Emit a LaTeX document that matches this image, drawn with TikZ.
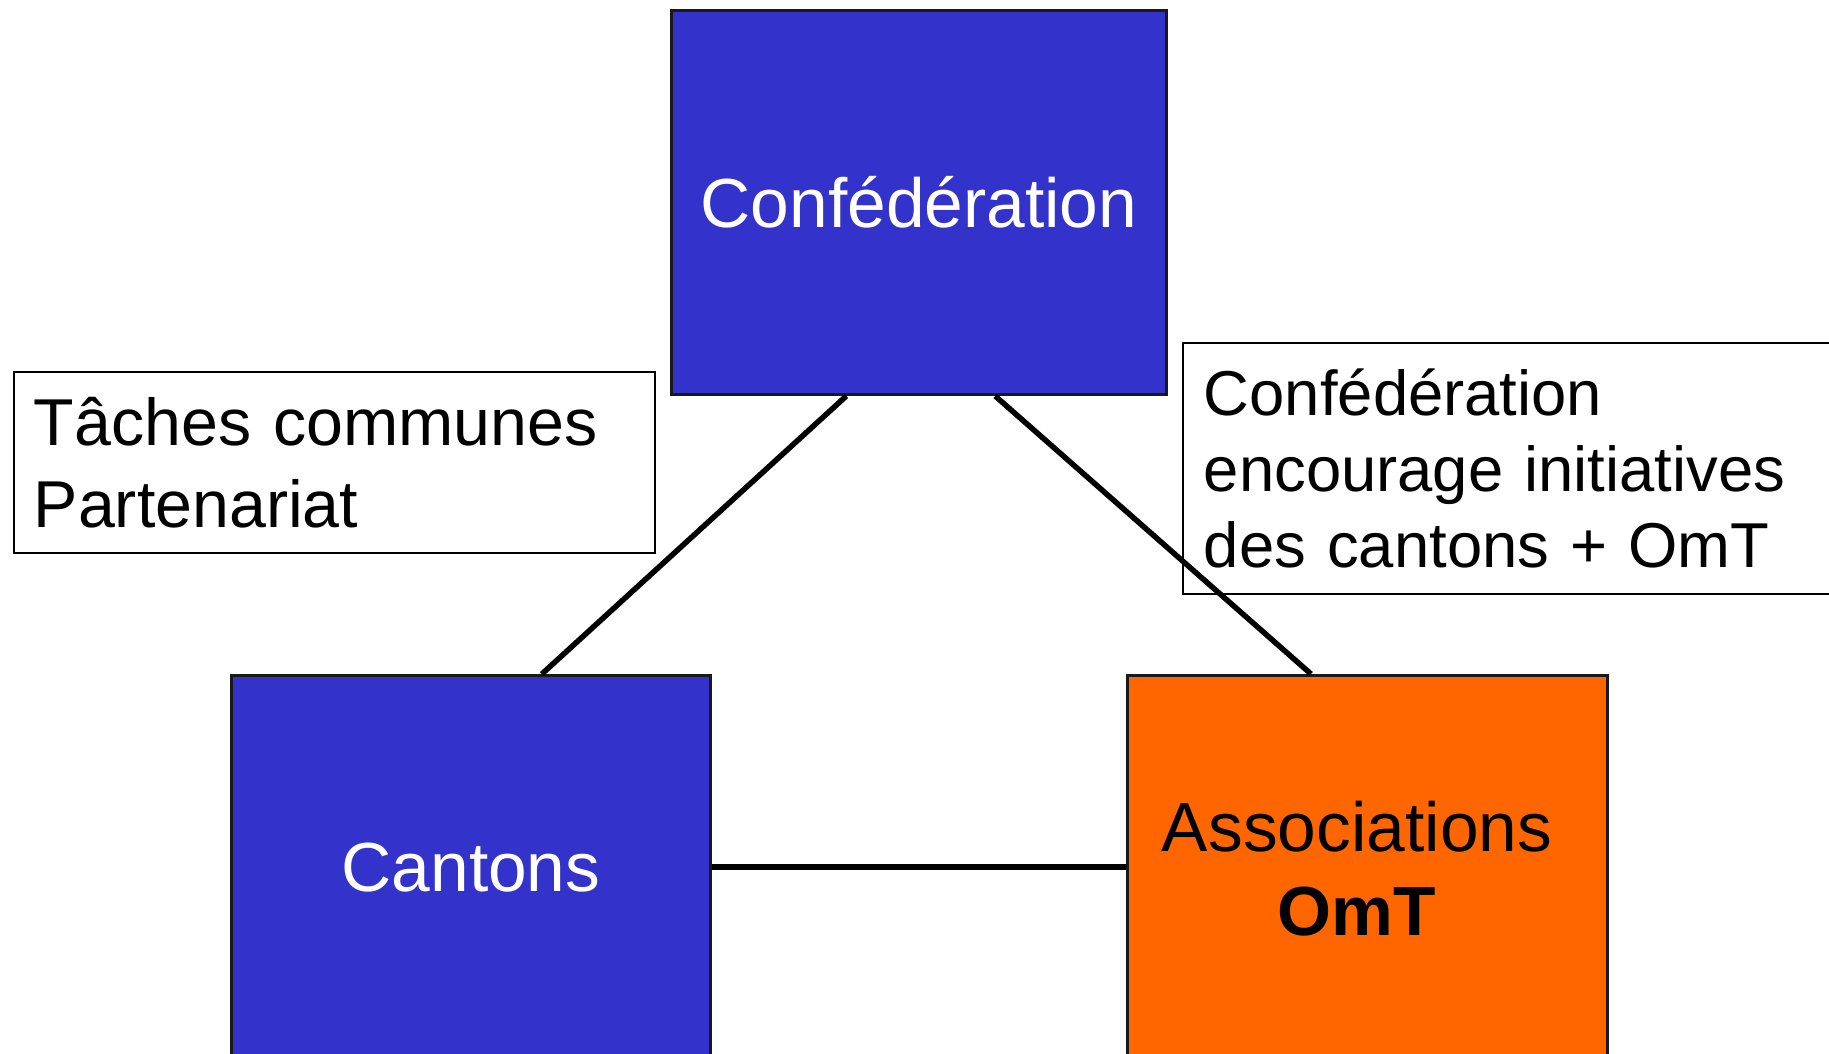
\documentclass[tikz,border=0pt]{standalone}
\usepackage{fontspec}
\setmainfont{Liberation Sans}
\usetikzlibrary{calc}
\definecolor{boxblue}{RGB}{51,51,204}
\definecolor{boxorange}{RGB}{255,102,0}
\begin{document}
\begin{tikzpicture}[x=1pt,y=-1pt,
  mainbox/.style={draw=black!90, line width=3pt, rectangle, anchor=north west, inner sep=0pt, font=\fontsize{69.5}{84}\selectfont},
  lblbox/.style={draw=black, line width=1.8pt, fill=white, rectangle, anchor=north west, align=left, inner ysep=0pt},
  link/.style={line width=5.5pt, draw=black}]
\useasboundingbox (0,0) rectangle (1829,1054);
\clip (0,0) rectangle (1829,1054);
\fill[white] (0,0) rectangle (1829,1054);
% label boxes
\node[lblbox, minimum height=181pt, text width=601pt, inner xsep=20pt, font=\fontsize{66.3}{82}\selectfont] (tl) at (13,371) {Tâches communes\\Partenariat};
\node[lblbox, minimum height=251pt, text width=620pt, inner xsep=21pt, font=\fontsize{63.4}{76}\selectfont] (tr) at (1182,342) {Confédération\\encourage initiatives\\des cantons + OmT};
% main boxes
\node[mainbox, fill=boxblue, text=white, minimum width=495pt, minimum height=384pt] (conf) at (670,9) {Confédération};
\node[mainbox, fill=boxblue, text=white, minimum width=479pt, minimum height=384pt] (cant) at (230,674) {Cantons};
\node[mainbox, fill=boxorange, minimum width=480pt, minimum height=420pt] (assoc) at (1126,674) {};
\node[font=\fontsize{69.5}{84}\selectfont, align=center, inner sep=0pt] (assoctext) at (1357,869) {Associations\\\textbf{OmT}};
% connectors
\draw[link] ($(conf.south west)!0.354!(conf.south east)$) -- ($(cant.north west)!0.647!(cant.north east)$);
\draw[link] ($(conf.south west)!0.653!(conf.south east)$) -- ($(assoc.north west)!0.383!(assoc.north east)$);
\draw[link] ($(cant.north east)+(0,193)$) -- ($(assoc.north west)+(0,193)$);
\end{tikzpicture}
\end{document}
